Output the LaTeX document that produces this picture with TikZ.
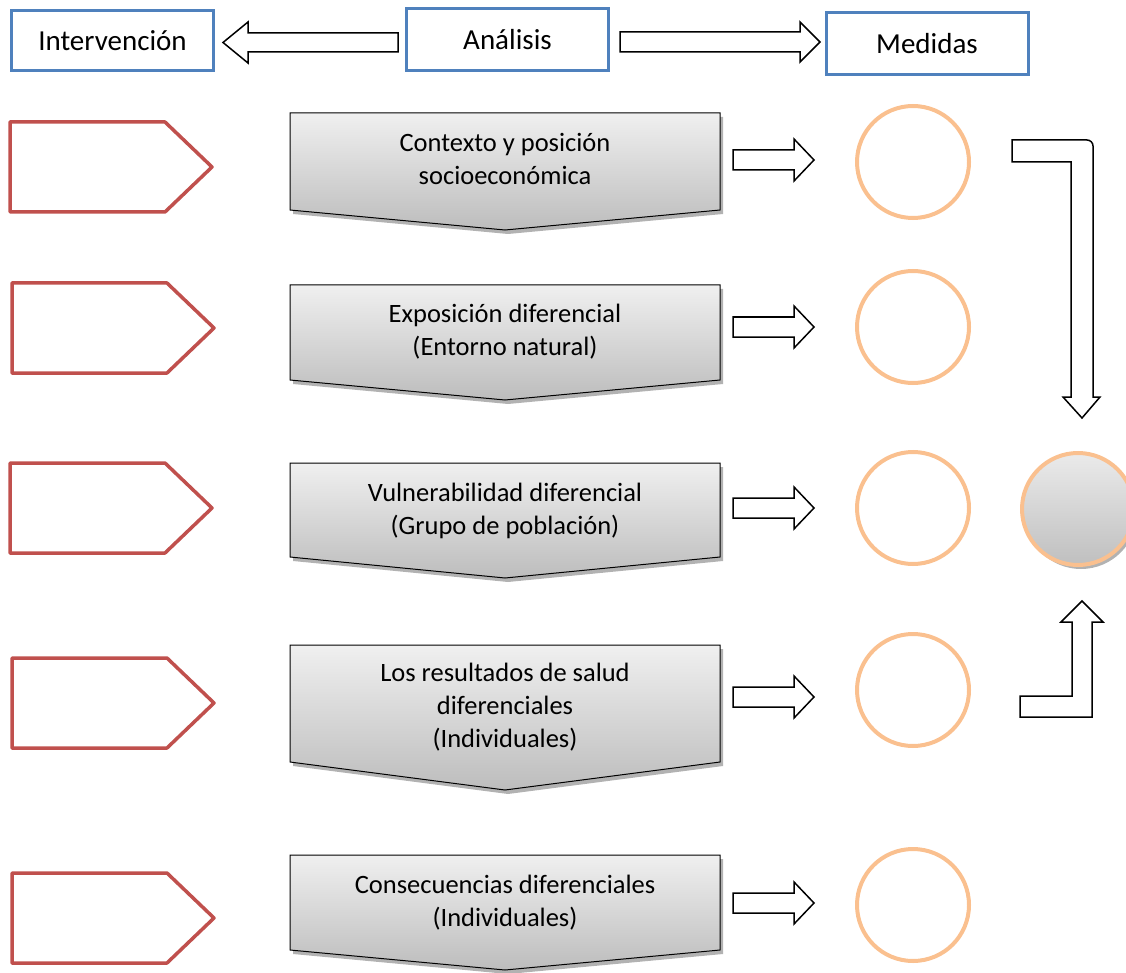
\documentclass[tikz,border=0pt]{standalone}
\usepackage{fontspec}
\setmainfont{Carlito}
\usetikzlibrary{shadows}
\definecolor{boxblue}{HTML}{4F81BD}
\definecolor{tagred}{HTML}{C0504D}
\definecolor{ringorange}{HTML}{FAC08F}
\tikzset{
  topbox/.style={draw=boxblue, line width=3pt, fill=white, minimum width=202pt, minimum height=60pt, inner sep=0pt},
  redtag/.style={draw=tagred, line width=3.5pt, line join=round},
  chev/.style={draw=black, line width=1pt, top color=white!94!black, bottom color=white!74!black,
               drop shadow={shadow xshift=3pt, shadow yshift=-4pt, opacity=0.3, fill=black}},
  chevtext/.style={align=center, font=\fontsize{26.5}{33}\selectfont, inner sep=0pt},
  toptext/.style={font=\fontsize{29}{34}\selectfont},
  ring/.style={draw=ringorange, line width=4pt, circle, minimum size=112pt, inner sep=0pt},
  barrow/.style={draw=black, line width=1.5pt, fill=white, line join=miter},
  tag/.pic={\draw[redtag] (0,0) -- (155,0) -- (202,45) -- (155,90) -- (0,90) -- cycle;},
  rarrow/.pic={\draw[barrow] (0,-10) -- (61,-10) -- (61,-21) -- (81,0) -- (61,21) -- (61,10) -- (0,10) -- cycle;}
}
\begin{document}
\begin{tikzpicture}[x=1pt, y=-1pt]
\useasboundingbox (0,0) rectangle (1126,973);
\clip (0,0) rectangle (1126,973);

% top row
\node[topbox, toptext] (int) at (112.5,41) {Intervención};
\node[topbox, toptext, minimum height=62pt] (ana) at (507.5,40) {Análisis};
\node[topbox, toptext, minimum height=62pt] (med) at (927,44) {Medidas};
\draw[barrow] (398,33) -- (248,33) -- (248,22) -- (223,42.5) -- (248,63) -- (248,52) -- (398,52) -- cycle;
\draw[barrow] (620,32) -- (800,32) -- (800,22) -- (820,42) -- (800,62) -- (800,52) -- (620,52) -- cycle;

% left tags
\pic at (10,122) {tag};
\pic at (12,283) {tag};
\pic at (10,463) {tag};
\pic at (12,658) {tag};
\pic at (12,873) {tag};

% chevron boxes
\path[chev] (290,113) -- (720,113) -- (720,210) -- (505,230) -- (290,210) -- cycle;
\node[chevtext] (c1) at (505,159) {Contexto y posición\\socioeconómica};
\path[chev] (290,285) -- (720,285) -- (720,380) -- (505,400) -- (290,380) -- cycle;
\node[chevtext] (c2) at (505,332) {Exposición diferencial\\(Entorno natural)};
\path[chev] (290,463) -- (720,463) -- (720,557) -- (505,578) -- (290,557) -- cycle;
\node[chevtext] (c3) at (505,511) {Vulnerabilidad diferencial\\(Grupo de población)};
\path[chev] (290,645) -- (720,645) -- (720,762) -- (505,790) -- (290,762) -- cycle;
\node[chevtext] (c4) at (505,707) {Los resultados de salud\\diferenciales\\(Individuales)};
\path[chev] (290,855) -- (720,855) -- (720,950) -- (505,970) -- (290,950) -- cycle;
\node[chevtext] (c5) at (505,903) {Consecuencias diferenciales\\(Individuales)};

% small arrows
\pic at (733,160) {rarrow};
\pic at (733,327) {rarrow};
\pic at (733,508) {rarrow};
\pic at (733,697) {rarrow};
\pic at (733,903) {rarrow};

% circles
\node[ring] (m1) at (913,162) {};
\node[ring] (m2) at (913,327) {};
\node[ring] (m3) at (913,508) {};
\node[ring] (m4) at (913,690) {};
\node[ring] (m5) at (913,905) {};

% grey result circle
\node[ring, top color=white!92!black, bottom color=white!75!black,
      drop shadow={shadow xshift=3pt, shadow yshift=-4pt, opacity=0.3, fill=black}] (res) at (1078,509) {};

% elbow arrows
\draw[barrow] (1012,140) -- (1087,140) arc[start angle=-90, end angle=0, radius=6] -- (1093,397) -- (1100,397) -- (1082,418) -- (1063,397) -- (1071,397) -- (1071,162) -- (1012,162) -- cycle;
\draw[barrow] (1082,601) -- (1103,622) -- (1092,622) -- (1092,717) -- (1020,717) -- (1020,696) -- (1072,696) -- (1072,622) -- (1061,622) -- cycle;
\end{tikzpicture}
\end{document}
